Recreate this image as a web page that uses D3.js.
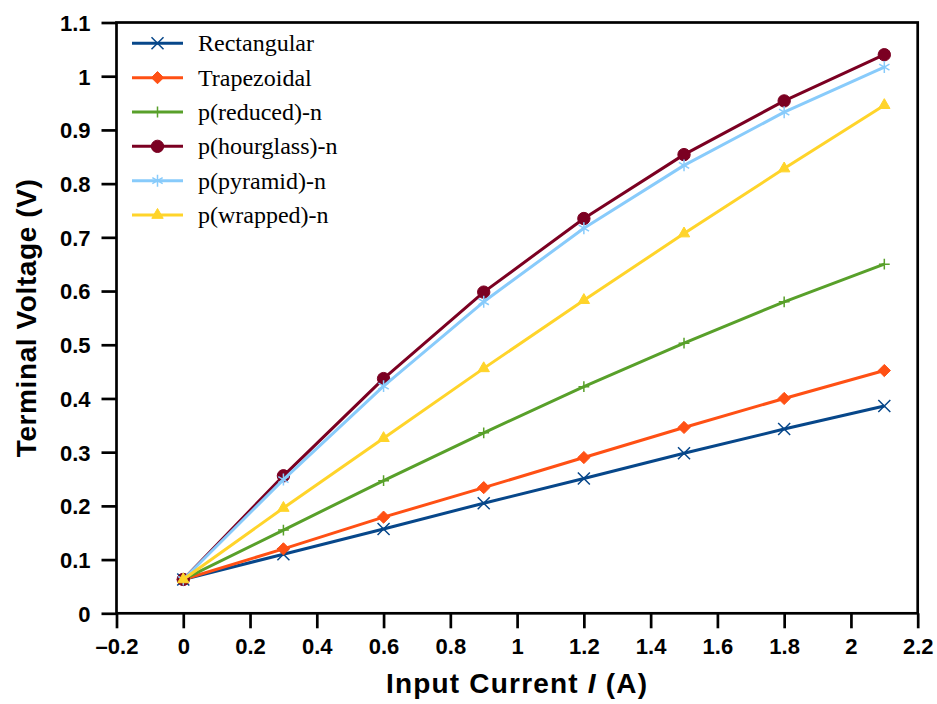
<!DOCTYPE html>
<html lang="en">
<head>
    <meta charset="UTF-8">
    <title>Terminal Voltage vs Input Current</title>
    <script src="https://d3js.org/d3.v7.min.js"></script>
    <style>
        body { margin: 0; background: #fff; }
        .tick text { font-family: "Liberation Sans", Arial, sans-serif; font-weight: bold; font-size: 22px; fill: #000; }
    </style>
</head>
<body>
    <script>
        // DATA
        var currents = [0, 0.3, 0.6, 0.9, 1.2, 1.5, 1.8, 2.1];
        var seriesNames = ["Rectangular", "Trapezoidal", "p(reduced)-n", "p(hourglass)-n", "p(pyramid)-n", "p(wrapped)-n"];
        var rectangular = [0.063, 0.110, 0.157, 0.205, 0.251, 0.298, 0.343, 0.386];
        var trapezoidal = [0.063, 0.120, 0.179, 0.234, 0.290, 0.346, 0.400, 0.452];
        var reduced     = [0.063, 0.155, 0.247, 0.336, 0.422, 0.503, 0.580, 0.650];
        var hourglass   = [0.063, 0.256, 0.437, 0.598, 0.735, 0.854, 0.954, 1.040];
        var pyramid     = [0.063, 0.249, 0.423, 0.580, 0.717, 0.834, 0.933, 1.017];
        var wrapped     = [0.063, 0.196, 0.326, 0.456, 0.583, 0.707, 0.828, 0.946];
        var xTicks = [-0.2, 0, 0.2, 0.4, 0.6, 0.8, 1, 1.2, 1.4, 1.6, 1.8, 2, 2.2];
        var yTicks = [0, 0.1, 0.2, 0.3, 0.4, 0.5, 0.6, 0.7, 0.8, 0.9, 1, 1.1];

        var colors = ["#07478a", "#ff5014", "#58a02a", "#7b0022", "#88cbfb", "#ffd42a"];

        // marker: symbol type, size, filled?
        var markers = [
            {type: d3.symbolTimes, size: 96, fill: false},
            {type: d3.symbolDiamond2, size: 95, fill: true},
            {type: d3.symbolPlus, size: 40, fill: false},
            {type: d3.symbolCircle, size: 120, fill: true},
            {type: d3.symbolAsterisk, size: 100, fill: false},
            {type: d3.symbolTriangle, size: 56, fill: true}
        ];

        var allValues = [rectangular, trapezoidal, reduced, hourglass, pyramid, wrapped];
        var series = seriesNames.map(function(name, i) {
            return {
                name: name,
                color: colors[i],
                marker: markers[i],
                points: currents.map(function(c, j) { return {x: c, y: allValues[i][j]}; })
            };
        });

        var width = 937, height = 704;
        // note: "top" is taken by window.top, so use plot* names
        var plotLeft = 116.5, plotRight = 917.7, plotTop = 22.5, plotBottom = 613.3;

        var svg = d3.select("body").append("svg")
            .attr("width", width)
            .attr("height", height);

        var x = d3.scaleLinear().domain([-0.2, 2.2]).range([plotLeft, plotRight]);
        var y = d3.scaleLinear().domain([0, 1.1]).range([plotBottom, plotTop]);

        var fmt = function(d) {
            var s = d3.format("~g")(d);
            return s.replace("\u2212", "\u2013").replace("-", "\u2013");
        };

        // axes
        var xAxis = svg.append("g")
            .attr("transform", "translate(0," + plotBottom + ")")
            .call(d3.axisBottom(x).tickValues(xTicks).tickFormat(fmt).tickSize(15).tickPadding(10));
        var yAxis = svg.append("g")
            .attr("transform", "translate(" + plotLeft + ",0)")
            .call(d3.axisLeft(y).tickValues(yTicks).tickFormat(fmt).tickSize(15).tickPadding(11));

        [xAxis, yAxis].forEach(function(a) {
            a.select(".domain").remove();
            a.selectAll(".tick line").attr("stroke", "#000").attr("stroke-width", 2.7);
        });
        yAxis.selectAll(".tick text").attr("dy", "0.36em");

        // frame
        svg.append("rect")
            .attr("x", plotLeft)
            .attr("y", plotTop)
            .attr("width", plotRight - plotLeft)
            .attr("height", plotBottom - plotTop)
            .attr("fill", "none")
            .attr("stroke", "#000")
            .attr("stroke-width", 2.7);

        // series
        var line = d3.line()
            .x(function(d) { return x(d.x); })
            .y(function(d) { return y(d.y); });

        function drawMarker(sel, s) {
            sel.attr("d", d3.symbol().type(s.marker.type).size(s.marker.size))
                .attr("fill", s.marker.fill ? s.color : "none")
                .attr("stroke", s.color)
                .attr("stroke-width", s.marker.fill ? 1 : 1.5);
        }

        var plot = svg.append("g");
        series.forEach(function(s) {
            var g = plot.append("g");
            g.append("path")
                .datum(s.points)
                .attr("d", line)
                .attr("fill", "none")
                .attr("stroke", s.color)
                .attr("stroke-width", 3)
                .attr("stroke-linejoin", "round");
            g.selectAll(".marker")
                .data(s.points)
                .enter().append("path")
                .attr("class", "marker")
                .attr("transform", function(d) { return "translate(" + x(d.x) + "," + y(d.y) + ")"; })
                .call(drawMarker, s);
        });

        // legend
        var legend = svg.append("g");
        series.forEach(function(s, i) {
            var ly = 43.3 + i * 34.35;
            legend.append("line")
                .attr("x1", 132).attr("x2", 183)
                .attr("y1", ly).attr("y2", ly)
                .attr("stroke", s.color)
                .attr("stroke-width", 3);
            legend.append("path")
                .attr("transform", "translate(157.5," + ly + ")")
                .call(drawMarker, s);
            legend.append("text")
                .attr("x", 198)
                .attr("y", ly)
                .attr("dy", "0.33em")
                .attr("font-family", "'Liberation Serif', 'Times New Roman', serif")
                .attr("font-size", "24px")
                .attr("fill", "#000")
                .text(s.name);
        });

        // axis titles
        var xTitle = svg.append("text")
            .attr("x", (plotLeft + plotRight) / 2)
            .attr("y", 693)
            .attr("text-anchor", "middle")
            .attr("font-family", "'Liberation Sans', Arial, sans-serif")
            .attr("font-weight", "bold")
            .attr("font-size", "28px")
            .attr("letter-spacing", "1.2px");
        xTitle.append("tspan").text("Input Current ");
        xTitle.append("tspan").attr("font-style", "italic").text("I");
        xTitle.append("tspan").text(" (A)");

        svg.append("text")
            .attr("transform", "translate(36," + (plotTop + plotBottom) / 2 + ") rotate(-90)")
            .attr("text-anchor", "middle")
            .attr("font-family", "'Liberation Sans', Arial, sans-serif")
            .attr("font-weight", "bold")
            .attr("font-size", "28px")
            .attr("letter-spacing", "0.6px")
            .text("Terminal Voltage (V)");
    </script>
</body>
</html>
